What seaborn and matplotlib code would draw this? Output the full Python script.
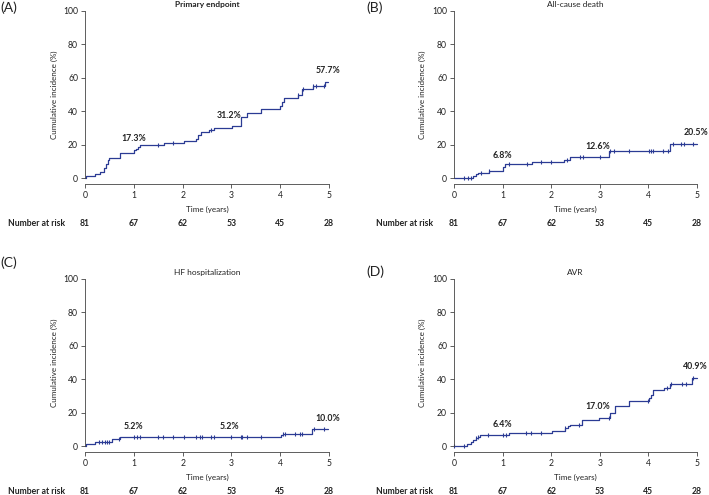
import numpy as np
import pandas as pd
import matplotlib
matplotlib.use("Agg")
import matplotlib.pyplot as plt
import seaborn as sns

# ---- data ----
years = [0, 1, 2, 3, 4, 5]
at_risk = [81, 67, 62, 53, 45, 28]

a_t = [0, 0.02, 0.2, 0.3, 0.38, 0.43, 0.47, 0.5, 0.71, 1.0, 1.04, 1.08, 1.13, 1.61, 2.03, 2.27,
       2.32, 2.37, 2.54, 2.64, 3.01, 3.19, 3.31, 3.61, 4.0, 4.04, 4.08, 4.36, 4.45, 4.67, 4.92, 4.98]
a_y = [0, 1.3, 2.5, 3.8, 5.8, 8.2, 10.5, 12.0, 15.0, 16.8, 17.3, 18.5, 20.0, 21.0, 22.3, 23.5,
       25.5, 27.5, 28.8, 30.0, 31.2, 36.7, 39.0, 41.6, 43.0, 45.5, 48.0, 49.5, 53.3, 55.0, 57.7, 57.7]
a_cens = [1.5, 1.8, 2.58, 4.36, 4.47, 4.68, 4.73, 4.9]
a_lab = ["17.3%", "31.2%", "57.7%"]
a_lab_y = [17.3, 31.2, 57.7]

b_t = [0, 0.4, 0.45, 0.5, 0.71, 1.0, 1.05, 1.6, 2.27, 2.38, 3.19, 4.45, 5.0]
b_y = [0, 1.2, 2.4, 3.2, 4.4, 6.8, 8.2, 9.7, 10.8, 12.6, 15.9, 20.5, 20.5]
b_cens = [0.2, 0.28, 0.36, 0.55, 0.71, 1.14, 1.5, 1.79, 2.0, 2.33, 2.6, 2.65, 3.0, 3.21, 3.3,
          3.6, 4.02, 4.06, 4.1, 4.3, 4.4, 4.5, 4.68, 4.74, 4.92]
b_lab = ["6.8%", "12.6%", "20.5%"]
b_lab_y = [6.8, 12.6, 20.5]

c_t = [0, 0.02, 0.2, 0.55, 0.71, 4.02, 4.05, 4.66, 4.97]
c_y = [0, 1.3, 2.6, 3.9, 5.2, 6.5, 7.3, 10.0, 10.0]
c_cens = [0.28, 0.34, 0.4, 0.45, 0.5, 0.69, 1.0, 1.06, 1.13, 1.5, 1.6, 1.8, 2.03, 2.28, 2.36,
          2.39, 2.58, 2.65, 3.0, 3.19, 3.21, 3.31, 3.61, 4.06, 4.1, 4.3, 4.4, 4.45, 4.7, 4.9]
c_lab = ["5.2%", "5.2%", "10.0%"]
c_lab_y = [5.2, 5.2, 10.0]

d_t = [0, 0.27, 0.36, 0.4, 0.45, 0.5, 0.54, 1.14, 2.02, 2.28, 2.35, 2.39, 2.63, 2.99, 3.2, 3.32,
       3.6, 4.02, 4.06, 4.1, 4.32, 4.45, 4.9, 5.0]
d_y = [0, 1.2, 2.5, 3.8, 4.6, 5.5, 6.4, 7.8, 9.2, 10.7, 12.0, 12.8, 15.3, 17.0, 19.8, 23.7,
       26.7, 28.5, 30.5, 33.5, 35.0, 37.0, 40.9, 40.9]
d_cens = [0, 0.2, 0.46, 0.5, 0.69, 1.0, 1.06, 1.48, 1.59, 1.79, 2.28, 2.58, 3.19, 4.0, 4.38,
          4.47, 4.7, 4.78, 4.92]
d_lab = ["6.4%", "17.0%", "40.9%"]
d_lab_y = [6.4, 17.0, 40.9]

lab_x = [1.0, 2.95, 4.97]

panels = [
    ("(A)", "Primary endpoint", "bold", a_t, a_y, a_cens, a_lab, a_lab_y),
    ("(B)", "All-cause death", "normal", b_t, b_y, b_cens, b_lab, b_lab_y),
    ("(C)", "HF hospitalization", "normal", c_t, c_y, c_cens, c_lab, c_lab_y),
    ("(D)", "AVR", "normal", d_t, d_y, d_cens, d_lab, d_lab_y),
]

sns.set_style("ticks")
plt.rcParams["font.family"] = ["Lato", "DejaVu Sans"]
plt.rcParams["axes.linewidth"] = 0.6

W, H = 709, 495
fig = plt.figure(figsize=(W / 100, H / 100), dpi=100)

# axes rectangles in pixels: left, top, right, bottom
rects = [(85, 11, 329, 178), (454, 11, 697, 178), (85, 279, 329, 446), (454, 279, 697, 446)]
label_pos = [(0, 8), (366, 8), (0, 263), (366, 272)]

col = "#2B3B94"
txt = "#222222"

for (lab, title, tw, t, y, cens, lbls, lbly), (l, tp, r, b), (lx, ly) in zip(panels, rects, label_pos):
    ax = fig.add_axes([l / W, 1 - b / H, (r - l) / W, (b - tp) / H])
    df = pd.DataFrame({"t": t, "y": y})
    sns.lineplot(data=df, x="t", y="y", drawstyle="steps-post", color=col, lw=0.9,
                 ax=ax, clip_on=False)
    t_arr, y_arr = np.array(t), np.array(y)
    cy = y_arr[np.searchsorted(t_arr, cens, side="right") - 1]
    sns.scatterplot(x=cens, y=cy, marker="|", s=9, color=col, linewidth=0.8, ax=ax, clip_on=False)

    ax.set_xlim(0, 5)
    ax.set_ylim(0, 100)
    ax.set_xticks(years)
    ax.set_yticks([0, 20, 40, 60, 80, 100])
    ax.spines[["top", "right"]].set_visible(False)
    ax.spines["bottom"].set_position(("outward", 4.5))
    ax.spines["left"].set_color("#444444")
    ax.spines["bottom"].set_color("#444444")
    ax.tick_params(labelsize=6.2, length=3, width=0.6, colors="#444444", labelcolor=txt, pad=2)
    ax.set_xlabel("")
    ax.set_ylabel("Cumulative incidence (%)", fontsize=5.8, color=txt, labelpad=4)
    ax.set_title(title, fontsize=6.0, fontweight=tw, color=txt, pad=3)

    h = b - tp
    ax.text(2.5, -31 / h, "Time (years)", transform=ax.get_xaxis_transform(),
            ha="center", va="center", fontsize=5.8, color=txt)
    ax.text((8 - 85) / 244 if l < 300 else (376 - 454) / 243, -45 / h, "Number at risk",
            transform=ax.transAxes, ha="left", va="center", fontsize=6.2, fontweight="bold", color=txt)
    for yr, n in zip(years, at_risk):
        ax.text(yr, -45 / h, str(n), transform=ax.get_xaxis_transform(),
                ha="center", va="center", fontsize=6.2, fontweight="bold", color=txt)

    for x0, s, v in zip(lab_x, lbls, lbly):
        ax.text(x0, v + 6.5, s, ha="center", va="center", fontsize=6.3,
                fontweight="bold", color=txt, clip_on=False)

    fig.text(lx / W, 1 - ly / H, lab, ha="left", va="center", fontsize=10, color=txt)

fig.savefig("out.png", dpi=100)
